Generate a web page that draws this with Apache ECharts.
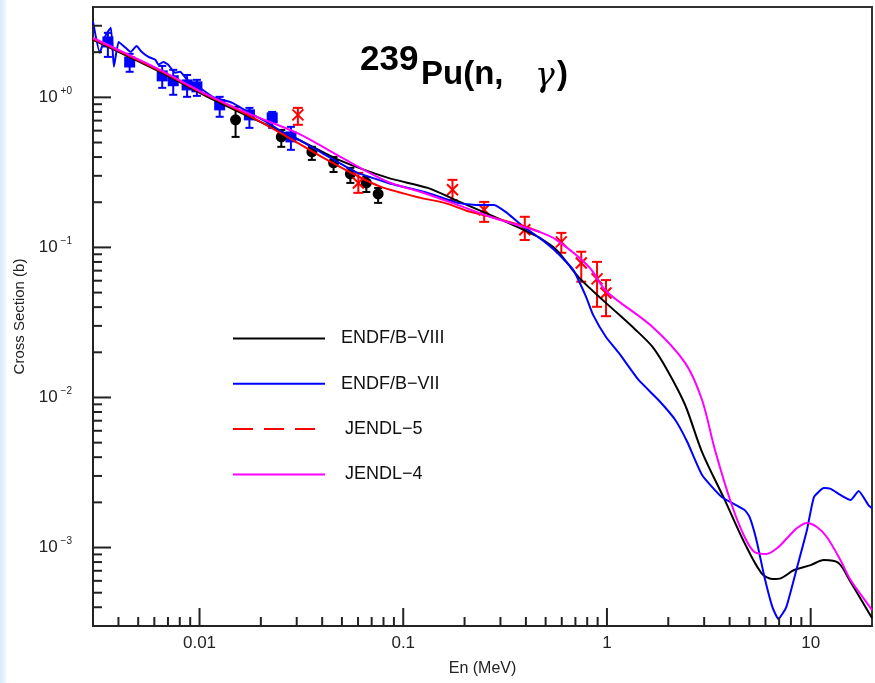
<!DOCTYPE html>
<html>
<head>
<meta charset="utf-8">
<script src="https://cdn.jsdelivr.net/npm/echarts@6/dist/echarts.min.js"></script>
<style>
html,body{margin:0;padding:0;background:#fff;}
#chart{width:875px;height:683px;}
</style>
</head>
<body>
<div id="chart"></div>
<script>
// ---------------- DATA ----------------
const E_MIN = 0.003, E_MAX = 20;
const S_MIN = 0.0003, S_MAX = 4;

const energyMajorTicks = [0.01, 0.1, 1, 10];
const energyMinorTicks = [0.004,0.005,0.006,0.007,0.008,0.009,
  0.02,0.03,0.04,0.05,0.06,0.07,0.08,0.09,
  0.2,0.3,0.4,0.5,0.6,0.7,0.8,0.9,
  2,3,4,5,6,7,8,9];
const sigmaMajorTicks = [0.001, 0.01, 0.1, 1];
const sigmaMinorTicks = [0.0004,0.0005,0.0006,0.0007,0.0008,0.0009,
  0.002,0.003,0.004,0.005,0.006,0.007,0.008,0.009,
  0.02,0.03,0.04,0.05,0.06,0.07,0.08,0.09,
  0.2,0.3,0.4,0.5,0.6,0.7,0.8,0.9,
  2,3];

// evaluated curves [E (MeV), sigma (b)]
const endfb8 = [[0.003,2.42],[0.0064,1.48],[0.0107,1.023],[0.0176,0.741],[0.0308,0.521],[0.0482,0.383],
  [0.0843,0.2905],[0.1318,0.2492],[0.1845,0.2042],[0.267,0.1647],[0.39,0.1308],[0.467,0.1157],[0.565,0.0962],
  [0.731,0.0626],[0.989,0.0427],[1.384,0.0282],[1.674,0.0217],[2.0,0.0148],[2.42,0.00891],[2.93,0.00433],
  [3.79,0.00207],[4.74,0.00107],[5.73,0.000676],[6.49,0.000617],[7.17,0.000626],[8.29,0.000708],
  [10.0,0.000764],[11.6,0.000825],[13.7,0.000788],[15.7,0.000589],[19.2,0.000372],[20,0.000339]];

const endfb7 = [[0.003,3.19],[0.00324,1.98],[0.00328,2.07],[0.00347,2.61],[0.00367,2.91],[0.0038,1.6],
  [0.00401,2.34],[0.00434,2.14],[0.00459,2.01],[0.00491,2.2],[0.00519,2.01],[0.00561,1.86],[0.00607,1.78],
  [0.00628,1.65],[0.00664,1.72],[0.00702,1.65],[0.00759,1.46],[0.00803,1.48],[0.00869,1.31],[0.01005,1.157],
  [0.0116,1.008],[0.0145,0.919],[0.0176,0.788],[0.0213,0.687],[0.0254,0.589],[0.0308,0.521],[0.0398,0.427],
  [0.0582,0.319],[0.0843,0.269],[0.1318,0.231],[0.1845,0.198],[0.2307,0.192],[0.279,0.192],[0.323,0.17],
  [0.39,0.137],[0.467,0.1157],[0.565,0.0933],[0.683,0.0708],[0.79,0.0468],[0.855,0.0355],[0.989,0.0253],
  [1.144,0.0198],[1.43,0.01308],[1.79,0.00962],[2.165,0.00708],[2.48,0.00505],[2.93,0.00304],[3.66,0.00217],
  [4.74,0.00178],[5.01,0.0016],[5.42,0.00112],[5.93,0.000636],[6.49,0.000401],[6.94,0.000334],[7.59,0.000401],
  [8.58,0.000741],[9.59,0.00131],[10.38,0.00217],[11.6,0.00249],[12.55,0.00246],[14.0,0.00224],[15.7,0.00207],
  [17.2,0.00238],[19.2,0.00192],[20,0.00183]];

const jendl5 = [[0.003,2.455],[0.0064,1.502],[0.01005,1.088],[0.0176,0.753],[0.0275,0.537],[0.0398,0.401],
  [0.0582,0.304],[0.0779,0.253],[0.1219,0.2138],[0.1595,0.198],[0.2063,0.175],[0.258,0.1622],[0.39,0.139],
  [0.467,0.1268]];

const jendl4 = [[0.003,2.49],[0.0041,2.04],[0.0064,1.525],[0.0107,1.055],[0.0176,0.776],[0.0308,0.571],
  [0.0482,0.407],[0.0843,0.273],[0.1219,0.234],[0.1845,0.192],[0.267,0.16],[0.39,0.137],[0.467,0.1268],
  [0.565,0.1122],[0.817,0.0741],[0.989,0.0513],[1.674,0.0295],[2.42,0.017],[2.93,0.00962],[3.39,0.00447],
  [4.1,0.00192],[4.74,0.001175],[5.3,0.000933],[6.06,0.000905],[6.86,0.000992],[7.67,0.001157],[8.58,0.00135],
  [9.59,0.001457],[10.73,0.00137],[12.0,0.001175],[14.0,0.000825],[15.7,0.000607],[19.2,0.000414],[20,0.000383]];

// experimental data [E, sigma, lower, upper]
const expSquares = [[0.00355,2.34,1.86,2.69],[0.00454,1.72,1.48,1.95],[0.00656,1.39,1.157,1.62],
  [0.00743,1.29,1.04,1.525],[0.00869,1.21,1.008,1.41],[0.00971,1.175,1.023,1.308],[0.01256,0.891,0.742,1.008],
  [0.01758,0.764,0.626,0.851],[0.02274,0.73,0.626,0.8],[0.0281,0.545,0.447,0.636]];
const expCircles = [[0.01503,0.708,0.545,0.864],[0.0252,0.545,0.468,0.607],[0.0356,0.433,0.383,0.468],
  [0.0455,0.366,0.318,0.401],[0.055,0.309,0.269,0.339],[0.0659,0.269,0.234,0.295],[0.0753,0.227,0.198,0.249]];
const expCrosses = [[0.0304,0.764,0.656,0.851],[0.0602,0.269,0.231,0.314],[0.1745,0.242,0.207,0.282],
  [0.2496,0.178,0.148,0.201],[0.395,0.131,0.112,0.16],[0.597,0.1088,0.0921,0.125],[0.748,0.0788,0.0591,0.0936],
  [0.894,0.0617,0.0402,0.0801],[0.989,0.0497,0.0348,0.0606]];

const seriesNames = ['ENDF/B\u2212VIII', 'ENDF/B\u2212VII', 'JENDL\u22125', 'JENDL\u22124'];

// ---------------- CHART ----------------
const FONT = 'Liberation Sans, Arial, Helvetica, sans-serif';
const chart = echarts.init(document.getElementById('chart'), null, {renderer: 'canvas'});

function isPow10(v) {
  const l = Math.log10(v);
  return Math.abs(l - Math.round(l)) < 1e-6;
}

function tickSeries(values, isX, len) {
  return {
    type: 'custom', silent: true, clip: false, z: 6,
    data: values.map(v => isX ? [v, S_MIN] : [E_MIN, v]),
    renderItem: function (params, api) {
      const p = api.coord([api.value(0), api.value(1)]);
      const shape = isX ? {x1: p[0], y1: p[1], x2: p[0], y2: p[1] - len}
                        : {x1: p[0], y1: p[1], x2: p[0] + len, y2: p[1]};
      return {type: 'line', shape: shape, style: {stroke: '#222', lineWidth: 2}};
    }
  };
}

function expSeries(data, color, marker) {
  return {
    type: 'custom', silent: true, z: 2,
    data: data,
    renderItem: function (params, api) {
      const x = api.value(0);
      const pc = api.coord([x, api.value(1)]);
      const pl = api.coord([x, api.value(2)]);
      const ph = api.coord([x, api.value(3)]);
      const cap = marker === 'cross' ? 5 : 4;
      const st = {stroke: color, lineWidth: 2};
      const children = [
        {type: 'line', shape: {x1: pc[0], y1: pl[1], x2: pc[0], y2: ph[1]}, style: st},
        {type: 'line', shape: {x1: pc[0] - cap, y1: pl[1], x2: pc[0] + cap, y2: pl[1]}, style: st},
        {type: 'line', shape: {x1: pc[0] - cap, y1: ph[1], x2: pc[0] + cap, y2: ph[1]}, style: st}
      ];
      if (marker === 'square') {
        children.push({type: 'rect', shape: {x: pc[0] - 5.5, y: pc[1] - 5.5, width: 11, height: 11}, style: {fill: color}});
      } else if (marker === 'circle') {
        children.push({type: 'circle', shape: {cx: pc[0], cy: pc[1], r: 5.5}, style: {fill: color}});
      } else {
        const s = 5.5;
        children.push({type: 'line', shape: {x1: pc[0] - s, y1: pc[1] - s, x2: pc[0] + s, y2: pc[1] + s}, style: st});
        children.push({type: 'line', shape: {x1: pc[0] - s, y1: pc[1] + s, x2: pc[0] + s, y2: pc[1] - s}, style: st});
      }
      return {type: 'group', children: children};
    }
  };
}

function lineSeries(name, data, color, smooth, z) {
  return {
    name: name, type: 'line', data: data, symbol: 'none', showSymbol: false,
    smooth: smooth, z: z, silent: true,
    lineStyle: {color: color, width: 2},
    itemStyle: {color: color}
  };
}

const option = {
  animation: false,
  backgroundColor: '#ffffff',
  grid: {left: 93, right: -4, top: 7, bottom: 57, show: true, borderColor: '#333', borderWidth: 2, backgroundColor: 'transparent'},
  xAxis: {
    type: 'log', min: E_MIN, max: E_MAX, logBase: 10,
    axisLine: {show: true, lineStyle: {color: '#222', width: 2}},
    axisTick: {show: false}, splitLine: {show: false}, minorTick: {show: false},
    axisLabel: {
      margin: 9, color: '#222', fontSize: 17, fontFamily: FONT,
      formatter: function (v) { return isPow10(v) ? String(Number(v.toPrecision(6))) : ''; }
    },
    name: 'En (MeV)', nameLocation: 'middle', nameGap: 35,
    nameTextStyle: {color: '#222', fontSize: 16, fontFamily: FONT}
  },
  yAxis: {
    type: 'log', min: S_MIN, max: S_MAX, logBase: 10,
    axisLine: {show: true, lineStyle: {color: '#222', width: 2}},
    axisTick: {show: false}, splitLine: {show: false}, minorTick: {show: false},
    axisLabel: {
      margin: 21, color: '#222', fontFamily: FONT,
      formatter: function (v) {
        if (!isPow10(v)) return '';
        const e = Math.round(Math.log10(v));
        const s = e === 0 ? '+0' : (e < 0 ? '\u2212' + (-e) : '+' + e);
        return '{b|10}{e|' + s + '}';
      },
      rich: {
        b: {fontSize: 17, fontFamily: FONT, color: '#222'},
        e: {fontSize: 10, fontFamily: FONT, color: '#222', padding: [0, 0, 12, 3]}
      }
    },
    name: 'Cross Section (b)', nameLocation: 'middle', nameGap: 64,
    nameTextStyle: {color: '#222', fontSize: 15, fontFamily: FONT}
  },
  legend: {
    orient: 'vertical', left: 232, top: 329.5, padding: 0,
    itemWidth: 92, itemHeight: 14, itemGap: 27.3,
    selectedMode: false,
    itemStyle: {opacity: 0},
    textStyle: {fontSize: 18, fontFamily: FONT, color: '#111', padding: [0, 0, 0, 11]},
    data: [
      {name: seriesNames[0]},
      {name: seriesNames[1]},
      {name: seriesNames[2], lineStyle: {type: [20, 11]}, textStyle: {padding: [0, 0, 0, 15]}},
      {name: seriesNames[3], textStyle: {padding: [0, 0, 0, 15]}}
    ]
  },
  graphic: [
    {type: 'rect', left: 0, top: 0, z: -10, shape: {width: 6, height: 683},
     style: {fill: new echarts.graphic.LinearGradient(0, 0, 1, 0, [{offset: 0, color: '#d6eaf8'}, {offset: 1, color: '#eef7fd'}])}},
    {type: 'text', x: 360, y: 60, z: 20, style: {text: '239', font: 'bold 35px ' + FONT, fill: '#000', verticalAlign: 'middle', align: 'left'}},
    {type: 'text', x: 421, y: 75, z: 20, style: {text: 'Pu(n,', font: 'bold 33px ' + FONT, fill: '#000', verticalAlign: 'middle', align: 'left'}},
    {type: 'text', x: 535, y: 77, z: 20, style: {text: '\u03b3', font: 'italic 33px DejaVu Serif, Liberation Serif, serif', fill: '#000', verticalAlign: 'middle', align: 'left'}},
    {type: 'text', x: 557, y: 75, z: 20, style: {text: ')', font: 'bold 33px ' + FONT, fill: '#000', verticalAlign: 'middle', align: 'left'}}
  ],
  series: [
    expSeries(expSquares, '#0000ff', 'square'),
    expSeries(expCircles, '#000000', 'circle'),
    expSeries(expCrosses, '#ff0000', 'cross'),
    lineSeries(seriesNames[0], endfb8, '#000000', 0.3, 3),
    lineSeries(seriesNames[1], endfb7, '#0000ff', 0.15, 3),
    lineSeries(seriesNames[2], jendl5, '#ff0000', 0.3, 4),
    lineSeries(seriesNames[3], jendl4, '#ff00ff', 0.3, 4),
    tickSeries(energyMajorTicks, true, 18),
    tickSeries(energyMinorTicks, true, 9),
    tickSeries(sigmaMajorTicks, false, 18),
    tickSeries(sigmaMinorTicks, false, 9)
  ]
};
chart.setOption(option);
</script>
</body>
</html>
